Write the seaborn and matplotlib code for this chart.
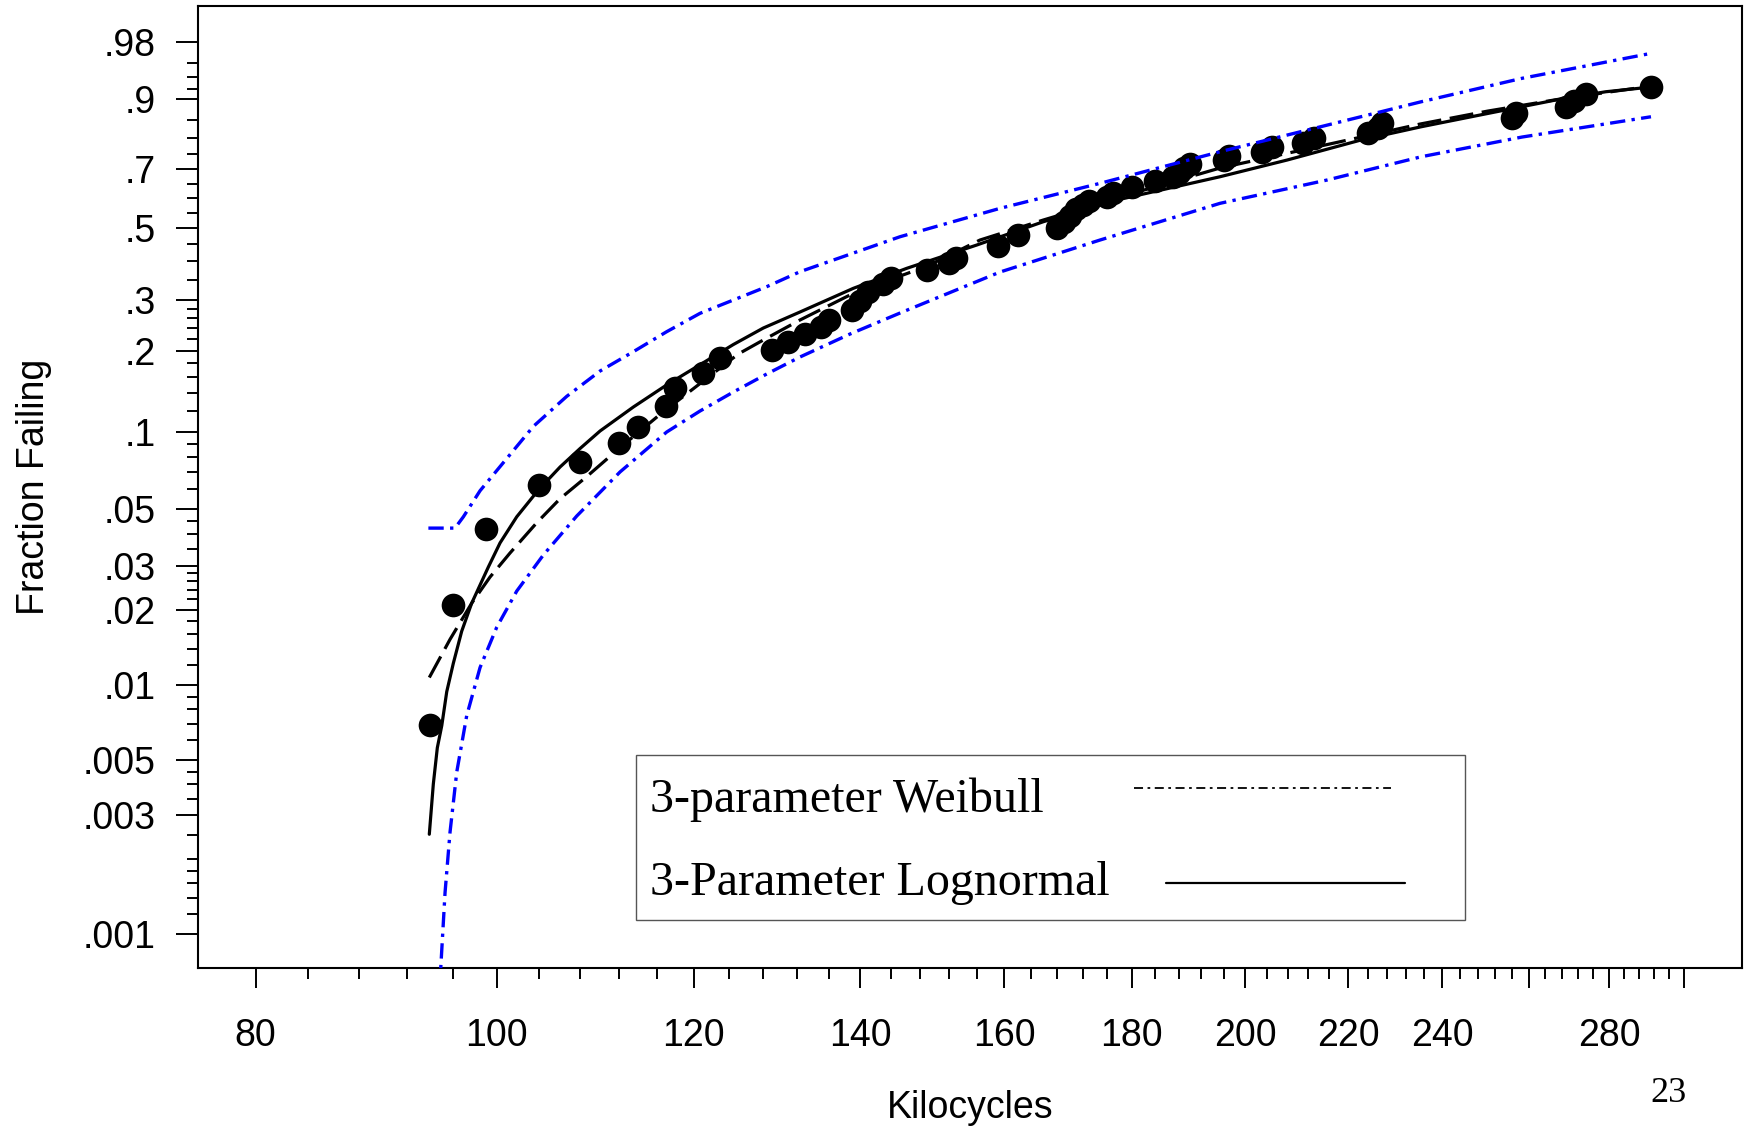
import numpy as np
import matplotlib
matplotlib.use("Agg")
import matplotlib.pyplot as plt
import seaborn as sns
from matplotlib.lines import Line2D
from matplotlib.legend_handler import HandlerLine2D
from matplotlib.ticker import FixedLocator, FixedFormatter, NullFormatter
from matplotlib.font_manager import FontProperties

# ---- fatigue-life data: distinct failure times and their plotted fraction failing ----
fail_kcycles = [94, 96, 99, 104, 108, 112, 114, 117, 118, 121, 123, 129, 131, 133, 135,
                136, 139, 140, 141, 143, 144, 149, 152, 153, 159, 162, 168, 169, 170, 171,
                172, 173, 176, 177, 180, 184, 187, 188, 189, 190, 196, 197, 203, 205, 211,
                213, 224, 226, 227, 256, 257, 269, 271, 274, 291]
fail_fraction = [0.00694, 0.02083, 0.04167, 0.0625, 0.07639, 0.09028, 0.10417, 0.125,
                 0.14583, 0.16667, 0.1875, 0.20139, 0.21528, 0.22917, 0.24306, 0.25694,
                 0.27778, 0.29861, 0.31944, 0.34028, 0.35417, 0.375, 0.39583, 0.40972,
                 0.44444, 0.47917, 0.5, 0.52083, 0.54167, 0.5625, 0.57639, 0.59028,
                 0.60417, 0.61806, 0.63889, 0.65972, 0.67361, 0.6875, 0.70139, 0.71528,
                 0.72917, 0.74306, 0.75694, 0.77083, 0.78472, 0.79861, 0.8125, 0.82639,
                 0.84028, 0.85417, 0.86806, 0.88194, 0.89583, 0.90972, 0.92361]

# ---- 3-parameter lognormal fit (solid) ----
logn_x = [93.96, 94.31, 94.66, 95.05, 95.49, 96.07, 96.82, 97.72, 99.24, 100.32, 101.88,
          103.94, 106.05, 108.03, 110.05, 113.49, 117.05, 120.72, 124.50, 128.00, 132.42,
          139.12, 146.17, 155.96, 165.87, 177.54, 195.34, 207.86, 222.55, 235.35, 250.43,
          266.47, 279.17, 291.10]
logn_F = [0.00252, 0.00401, 0.00561, 0.00688, 0.00942, 0.01222, 0.01643, 0.02126, 0.02961,
          0.03688, 0.04673, 0.0595, 0.07313, 0.08618, 0.1006, 0.124, 0.150, 0.178,
          0.21047, 0.24073, 0.27345, 0.32825, 0.38053, 0.4481, 0.52177, 0.59423, 0.6735,
          0.72932, 0.79257, 0.83126, 0.86664, 0.8976, 0.91468, 0.92352]

# ---- 3-parameter Weibull fit (dashed) ----
wb_x = [93.96, 95.78, 97.72, 99.39, 101.25, 103.78, 106.05, 108.70, 111.76, 116.33, 125.07,
        128.00, 132.42, 139.12, 149.0, 156.43, 165.87, 178.08, 195.34, 218.29, 235.07,
        250.33, 267.58, 291.10]
wb_F = [0.01073, 0.01525, 0.02126, 0.027, 0.03364, 0.04426, 0.05504, 0.06712, 0.08468,
        0.11631, 0.19461, 0.21842, 0.25666, 0.31609, 0.387, 0.46346, 0.52736, 0.60447,
        0.70286, 0.78742, 0.83867, 0.87233, 0.89975, 0.92534]

# ---- pointwise confidence bands (blue dash-dot) ----
upper_x = [93.88, 96.22, 96.97, 98.48, 100.32, 103.46, 106.71, 110.05, 113.49, 117.05,
           120.72, 128.40, 132.42, 145.27, 159.36, 174.81, 195.34, 214.41, 235.35, 258.31,
           291.10]
upper_F = [0.04218, 0.04218, 0.04673, 0.05913, 0.07339, 0.10474, 0.13604, 0.16878, 0.19836,
           0.23369, 0.27066, 0.33228, 0.37131, 0.47373, 0.56623, 0.65114, 0.75618, 0.83126,
           0.89393, 0.93838, 0.97019]
lower_x = [94.92, 94.96, 95.34, 95.78, 96.38, 97.27, 98.48, 100.01, 101.88, 104.42, 107.70,
           112.10, 117.05, 120.72, 124.50, 128.40, 132.42, 138.70, 145.27, 159.36, 174.81,
           195.34, 215.68, 235.35, 258.34, 291.10]
lower_F = [0.000596, 0.00073, 0.00147, 0.00257, 0.004487, 0.007545, 0.01177, 0.01704,
           0.02375, 0.03303, 0.04707, 0.06995, 0.0997, 0.11981, 0.14115, 0.16455, 0.18983,
           0.22935, 0.2713, 0.37049, 0.46346, 0.58306, 0.66232, 0.74009, 0.80155, 0.85799]

# ---- axis ticks ----
x_major = [80, 100, 120, 140, 160, 180, 200, 220, 240, 260, 280, 300]
x_major_labels = ["80", "100", "120", "140", "160", "180", "200", "220", "240", "", "280", ""]
x_minor = [v for v in range(84, 300, 4) if v % 20]
y_major = [0.001, 0.003, 0.005, 0.01, 0.02, 0.03, 0.05, 0.1, 0.2, 0.3, 0.5, 0.7, 0.9, 0.98]
y_major_labels = [".001", ".003", ".005", ".01", ".02", ".03", ".05", ".1", ".2", ".3",
                  ".5", ".7", ".9", ".98"]
y_minor = [0.0012, 0.0014, 0.0016, 0.0018, 0.002, 0.0025, 0.0035, 0.004, 0.0045,
           0.006, 0.007, 0.008, 0.009, 0.012, 0.014, 0.016, 0.018,
           0.022, 0.024, 0.026, 0.028, 0.035, 0.04, 0.045, 0.06, 0.07, 0.08, 0.09,
           0.12, 0.14, 0.16, 0.18, 0.22, 0.24, 0.26, 0.28, 0.35, 0.4, 0.45,
           0.55, 0.6, 0.65, 0.75, 0.8, 0.85, 0.92, 0.94, 0.96]

sns.set_theme(style="ticks")
plt.rcParams["font.family"] = ["Liberation Sans", "DejaVu Sans"]
plt.rcParams["axes.linewidth"] = 1.5
plt.rcParams["axes.edgecolor"] = "black"
plt.rcParams["text.color"] = "black"


def weibull_fwd(p):
    p = np.clip(np.asarray(p, dtype=float), 1e-12, 1 - 1e-12)
    return np.log(-np.log1p(-p))


def weibull_inv(w):
    return -np.expm1(-np.exp(np.asarray(w, dtype=float)))


class SegmentHandler(HandlerLine2D):
    """Legend line over part of the handle box, optionally raised or lowered."""

    def __init__(self, start, stop, lift=0.0):
        super().__init__()
        self.start, self.stop, self.lift = start, stop, lift

    def create_artists(self, legend, orig_handle, xdescent, ydescent, width, height,
                       fontsize, trans):
        return super().create_artists(legend, orig_handle,
                                      xdescent - self.start * width,
                                      ydescent - 2 * self.lift * fontsize,
                                      (self.stop - self.start) * width, height,
                                      fontsize, trans)


fig = plt.figure(figsize=(17.46, 11.27), dpi=100)
ax = fig.add_axes([0.11323, 0.14108, 0.88431, 0.85359])
ax.set_xscale("log")
ax.set_yscale("function", functions=(weibull_fwd, weibull_inv))

blue = "#0000ff"
sns.lineplot(x=logn_x, y=logn_F, ax=ax, color="black", lw=2.3, sort=False,
             estimator=None, zorder=2)
sns.lineplot(x=wb_x, y=wb_F, ax=ax, color="black", lw=2.3, linestyle=(0, (7.5, 2.7)),
             sort=False, estimator=None, zorder=2)
sns.scatterplot(x=fail_kcycles, y=fail_fraction, ax=ax, color="black", s=290,
                linewidth=0, zorder=3)
for bx, bF in ((upper_x, upper_F), (lower_x, lower_F)):
    sns.lineplot(x=bx, y=bF, ax=ax, color=blue, lw=2.4,
                 linestyle=(0, (4.6, 1.9, 1.0, 1.9)), sort=False, estimator=None, zorder=4)

ax.set_xlim(75.83, 316.6)
ax.set_ylim(0.00073, 0.9957)

ax.xaxis.set_major_locator(FixedLocator(x_major))
ax.xaxis.set_major_formatter(FixedFormatter(x_major_labels))
ax.xaxis.set_minor_locator(FixedLocator(x_minor))
ax.xaxis.set_minor_formatter(NullFormatter())
ax.yaxis.set_major_locator(FixedLocator(y_major))
ax.yaxis.set_major_formatter(FixedFormatter(y_major_labels))
ax.yaxis.set_minor_locator(FixedLocator(y_minor))
ax.yaxis.set_minor_formatter(NullFormatter())

ax.tick_params(axis="x", which="major", length=14.4, width=1.4, pad=21.5, labelsize=27,
               direction="out", color="black", labelcolor="black")
ax.tick_params(axis="x", which="minor", length=8, width=1.4, direction="out", color="black")
ax.tick_params(axis="y", which="major", length=15.6, width=1.4, pad=14.8, labelsize=27,
               direction="out", color="black", labelcolor="black")
ax.tick_params(axis="y", which="minor", length=8, width=1.4, direction="out", color="black")
for side in ("top", "right", "bottom", "left"):
    ax.spines[side].set_visible(True)
    ax.spines[side].set_color("black")
    ax.spines[side].set_linewidth(1.5)

ax.set_xlabel("Kilocycles", fontsize=27, color="black")
ax.xaxis.set_label_coords(0.5, -0.1455)
ax.xaxis.label.set_va("center")
ax.set_ylabel("Fraction Failing", fontsize=27, color="black")
ax.yaxis.set_label_coords(-0.1060, 0.5)
ax.yaxis.label.set_va("center")

wb_handle = Line2D([], [], color="black", lw=1.3, linestyle=(0, (5, 2.5, 1.5, 2.5)))
ln_handle = Line2D([], [], color="black", lw=1.6)
leg = ax.legend([wb_handle, ln_handle], ["3-parameter Weibull", "3-Parameter Lognormal"],
                handler_map={wb_handle: SegmentHandler(0.036, 0.816, 0.04),
                             ln_handle: SegmentHandler(0.133, 0.86, -0.19)},
                loc="lower left", bbox_to_anchor=(0.2836, 0.0499), borderaxespad=0,
                markerfirst=False, prop=FontProperties(family="Liberation Serif", size=34.6),
                handlelength=6.85, handleheight=1.329, handletextpad=0.27, borderpad=0.29,
                labelspacing=0.637, frameon=True, fancybox=False, edgecolor="#555555",
                framealpha=1, labelcolor="black")
leg.get_frame().set_linewidth(1.0)

fig.text(1669 / 1746, 1 - 1094 / 1127, "23", fontsize=26, family="Liberation Serif",
         ha="center", va="center", color="black")

# Left-align the legend labels: widen the text-to-line gap of the shorter entry.
fig.canvas.draw()
renderer = fig.canvas.get_renderer()
label_widths = [t.get_window_extent(renderer).width for t in leg.get_texts()]
legend_rows = leg._legend_handle_box.get_children()[0].get_children()
for row, w in zip(legend_rows, label_widths):
    row.sep += (max(label_widths) - w) * 72.0 / fig.dpi

fig.savefig("out.png", dpi=100, facecolor="white")
